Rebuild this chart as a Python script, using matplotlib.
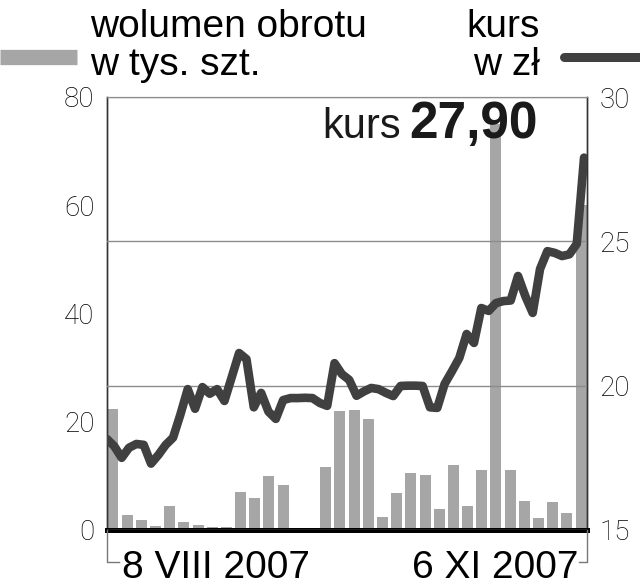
import matplotlib.pyplot as plt
import numpy as np
from matplotlib.lines import Line2D

# weekly-ish volume bars (thousand shares) and daily closing price (zl)
volume = [22.4, 2.7, 1.9, 0.7, 4.5, 1.4, 1.0, 0.5, 0.6, 7.0, 6.0, 9.9, 8.4,
          0.0, 0.0,
          11.7, 22.0, 22.2, 20.6, 2.4, 6.9, 10.6, 10.2, 3.9, 12.0, 4.5, 11.1,
          75.0, 11.1, 5.4, 2.2, 5.2, 3.2, 60.0]
price = [18.15, 17.9, 17.5, 17.85, 17.98, 17.95, 17.3, 17.6, 17.95, 18.2,
         19.0, 19.88, 19.2, 19.95, 19.72, 19.88, 19.47, 20.3, 21.13, 20.92,
         19.25, 19.75, 19.1, 18.85, 19.5, 19.57, 19.57, 19.58, 19.57, 19.4,
         19.3, 20.78, 20.4, 20.2, 19.65, 19.8, 19.92, 19.88, 19.75, 19.64,
         19.99, 20.0, 20.0, 19.99, 19.25, 19.23, 20.06, 20.5, 20.96, 21.79,
         21.48, 22.69, 22.59, 22.86, 22.93, 22.95, 23.8, 23.1, 22.52, 24.04,
         24.66, 24.6, 24.49, 24.55, 24.91, 27.90]
vol_ticks = [0, 20, 40, 60, 80]
price_ticks = [15, 20, 25, 30]
date_labels = ['8 VIII 2007', '6 XI 2007']

W, H = 640, 588
BAR = '#a6a6a6'
LINE = '#404040'
FONT = ['Liberation Sans', 'DejaVu Sans']


def fx(px):
    return px / W


def fy(py):
    return 1 - py / H


fig = plt.figure(figsize=(W / 100, H / 100), dpi=100)
ax = fig.add_axes([fx(107), fy(530), fx(587) - fx(107), fy(97) - fy(530)])
ax2 = ax.twinx()

days = np.arange(len(price))
bar_x = np.linspace(0.8, 64.6, len(volume))
ax.bar(bar_x, volume, width=1.5, color=BAR, zorder=1)
ax2.plot(days, price, color=LINE, lw=6.2, solid_joinstyle='round',
         solid_capstyle='round', zorder=3)

ax.set_xlim(0, 65.4)
ax.set_ylim(0, 80)
ax2.set_ylim(15, 30)
ax.set_yticks(vol_ticks)
ax2.set_yticks(price_ticks)
ax.set_xticks([])

ax2.yaxis.grid(True, color='#8c8c8c', lw=1)
ax2.set_axisbelow(False)

tick_font = dict(family=['Roboto', 'DejaVu Sans'], weight='light', size=20)
for a in (ax, ax2):
    a.tick_params(axis='y', length=0, pad=9, colors='black')
    for lab in a.get_yticklabels():
        lab.set_fontproperties(tick_font)

for a in (ax, ax2):
    a.spines['top'].set_color('#999999')
    a.spines['left'].set_color('#333333')
    a.spines['right'].set_color('#333333')
    a.spines['bottom'].set_color('black')
    a.spines['bottom'].set_linewidth(3.5)
    a.spines['left'].set_linewidth(1)
    a.spines['right'].set_linewidth(1)

# date brackets under the axis
fig.add_artist(Line2D([fx(107), fx(107), fx(119)], [fy(530), fy(562), fy(562)],
                      color='#777777', lw=1))
fig.add_artist(Line2D([fx(587), fx(587), fx(579)], [fy(530), fy(562), fy(562)],
                      color='#777777', lw=1))
fig.text(fx(122), fy(578), date_labels[0], family=FONT, size=28,
         ha='left', va='baseline')
fig.text(fx(578), fy(578), date_labels[1], family=FONT, size=28,
         ha='right', va='baseline')

# legend header
fig.text(fx(90), fy(37), 'wolumen obrotu', family=FONT, size=28, va='baseline')
fig.text(fx(90), fy(75), 'w tys. szt.', family=FONT, size=28, va='baseline')
fig.text(fx(540), fy(37), 'kurs', family=FONT, size=28, ha='right', va='baseline')
fig.text(fx(540), fy(75), 'w zł', family=FONT, size=28, ha='right', va='baseline')
fig.add_artist(Line2D([fx(0), fx(77)], [fy(57), fy(57)], color=BAR, lw=11,
                      solid_capstyle='butt'))
fig.add_artist(Line2D([fx(564), fx(645)], [fy(57), fy(57)], color=LINE, lw=6.5,
                      solid_capstyle='round'))

# last price annotation
fig.text(fx(538), fy(138), '27,90', family=FONT, size=37, weight='bold',
         ha='right', va='baseline', color='#1a1a1a', zorder=5)
fig.text(fx(401), fy(138), 'kurs', family=FONT,
         size=30, ha='right', va='baseline', color='#1a1a1a', zorder=5)

fig.savefig('out.png', dpi=100, facecolor='white')
